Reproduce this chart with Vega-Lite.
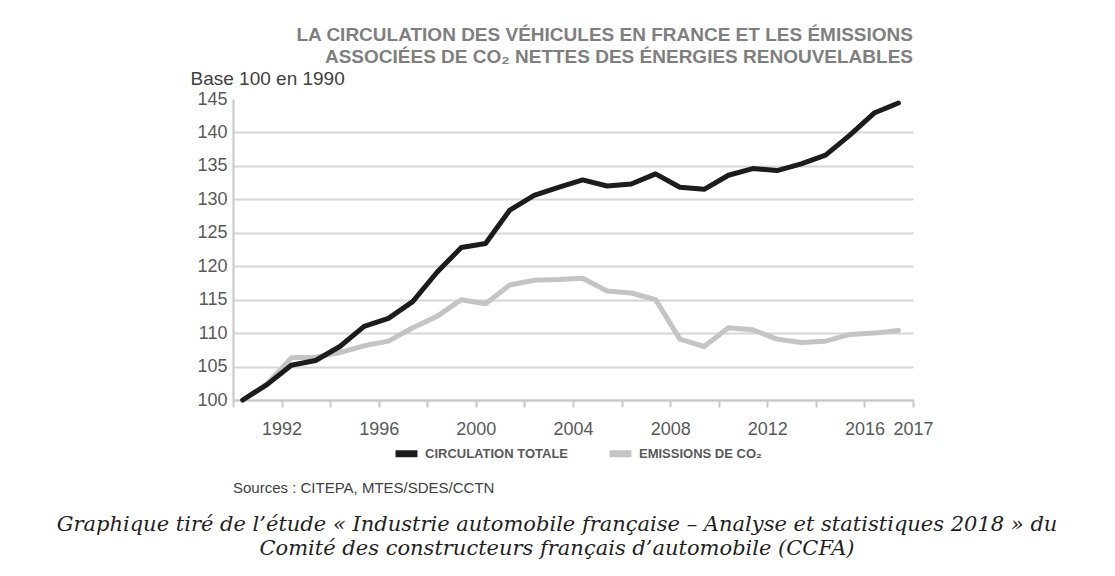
{
  "$schema": "https://vega.github.io/schema/vega-lite/v6.json",
  "autosize": {"type": "none"},
  "padding": {"left": 233, "top": 99, "right": 882, "bottom": 477},
  "background": "white",
  "bounds": "flush",
  "spacing": 0,
  "config": {
    "font": "Liberation Sans",
    "view": {"stroke": null}
  },
  "vconcat": [
    {
      "width": 680,
      "height": 301,
      "title": {
        "text": ["LA CIRCULATION DES VÉHICULES EN FRANCE ET LES ÉMISSIONS", "ASSOCIÉES DE CO₂ NETTES DES ÉNERGIES RENOUVELABLES"],
        "anchor": "end",
        "frame": "group",
        "font": "Liberation Sans",
        "fontSize": 19,
        "fontWeight": "bold",
        "color": "#7f7f7f",
        "lineHeight": 22,
        "offset": 2
      },
      "data": {
        "values": [
          {"year": 1990, "series": "EMISSIONS DE CO₂", "value": 100},
          {"year": 1991, "series": "EMISSIONS DE CO₂", "value": 102.4},
          {"year": 1992, "series": "EMISSIONS DE CO₂", "value": 106.3},
          {"year": 1993, "series": "EMISSIONS DE CO₂", "value": 106.4},
          {"year": 1994, "series": "EMISSIONS DE CO₂", "value": 107.1},
          {"year": 1995, "series": "EMISSIONS DE CO₂", "value": 108.1},
          {"year": 1996, "series": "EMISSIONS DE CO₂", "value": 108.8},
          {"year": 1997, "series": "EMISSIONS DE CO₂", "value": 110.8},
          {"year": 1998, "series": "EMISSIONS DE CO₂", "value": 112.5},
          {"year": 1999, "series": "EMISSIONS DE CO₂", "value": 115.0},
          {"year": 2000, "series": "EMISSIONS DE CO₂", "value": 114.4},
          {"year": 2001, "series": "EMISSIONS DE CO₂", "value": 117.2},
          {"year": 2002, "series": "EMISSIONS DE CO₂", "value": 117.9},
          {"year": 2003, "series": "EMISSIONS DE CO₂", "value": 118.0},
          {"year": 2004, "series": "EMISSIONS DE CO₂", "value": 118.2},
          {"year": 2005, "series": "EMISSIONS DE CO₂", "value": 116.3},
          {"year": 2006, "series": "EMISSIONS DE CO₂", "value": 116.0},
          {"year": 2007, "series": "EMISSIONS DE CO₂", "value": 115.0},
          {"year": 2008, "series": "EMISSIONS DE CO₂", "value": 109.1},
          {"year": 2009, "series": "EMISSIONS DE CO₂", "value": 108.0},
          {"year": 2010, "series": "EMISSIONS DE CO₂", "value": 110.8},
          {"year": 2011, "series": "EMISSIONS DE CO₂", "value": 110.5},
          {"year": 2012, "series": "EMISSIONS DE CO₂", "value": 109.1},
          {"year": 2013, "series": "EMISSIONS DE CO₂", "value": 108.6},
          {"year": 2014, "series": "EMISSIONS DE CO₂", "value": 108.8},
          {"year": 2015, "series": "EMISSIONS DE CO₂", "value": 109.8},
          {"year": 2016, "series": "EMISSIONS DE CO₂", "value": 110.0},
          {"year": 2017, "series": "EMISSIONS DE CO₂", "value": 110.4},
          {"year": 1990, "series": "CIRCULATION TOTALE", "value": 100},
          {"year": 1991, "series": "CIRCULATION TOTALE", "value": 102.3},
          {"year": 1992, "series": "CIRCULATION TOTALE", "value": 105.2},
          {"year": 1993, "series": "CIRCULATION TOTALE", "value": 105.9},
          {"year": 1994, "series": "CIRCULATION TOTALE", "value": 108.0},
          {"year": 1995, "series": "CIRCULATION TOTALE", "value": 111.0},
          {"year": 1996, "series": "CIRCULATION TOTALE", "value": 112.2},
          {"year": 1997, "series": "CIRCULATION TOTALE", "value": 114.7},
          {"year": 1998, "series": "CIRCULATION TOTALE", "value": 119.1},
          {"year": 1999, "series": "CIRCULATION TOTALE", "value": 122.8},
          {"year": 2000, "series": "CIRCULATION TOTALE", "value": 123.4},
          {"year": 2001, "series": "CIRCULATION TOTALE", "value": 128.4},
          {"year": 2002, "series": "CIRCULATION TOTALE", "value": 130.6},
          {"year": 2003, "series": "CIRCULATION TOTALE", "value": 131.8},
          {"year": 2004, "series": "CIRCULATION TOTALE", "value": 132.9},
          {"year": 2005, "series": "CIRCULATION TOTALE", "value": 132.0},
          {"year": 2006, "series": "CIRCULATION TOTALE", "value": 132.3},
          {"year": 2007, "series": "CIRCULATION TOTALE", "value": 133.8},
          {"year": 2008, "series": "CIRCULATION TOTALE", "value": 131.8},
          {"year": 2009, "series": "CIRCULATION TOTALE", "value": 131.5},
          {"year": 2010, "series": "CIRCULATION TOTALE", "value": 133.6},
          {"year": 2011, "series": "CIRCULATION TOTALE", "value": 134.6},
          {"year": 2012, "series": "CIRCULATION TOTALE", "value": 134.3},
          {"year": 2013, "series": "CIRCULATION TOTALE", "value": 135.3},
          {"year": 2014, "series": "CIRCULATION TOTALE", "value": 136.6},
          {"year": 2015, "series": "CIRCULATION TOTALE", "value": 139.6},
          {"year": 2016, "series": "CIRCULATION TOTALE", "value": 142.9},
          {"year": 2017, "series": "CIRCULATION TOTALE", "value": 144.4}
        ]
      },
      "mark": {"type": "line", "strokeWidth": 5, "strokeJoin": "round", "strokeCap": "round"},
      "encoding": {
        "x": {
          "field": "year",
          "type": "quantitative",
          "scale": {"domain": [1989.6, 2017.6], "nice": false, "zero": false},
          "axis": {
            "title": null,
            "values": [1989.6, 1991.6, 1993.6, 1995.6, 1997.6, 1999.6, 2001.6, 2003.6, 2005.6, 2007.6, 2009.6, 2011.6, 2013.6, 2015.6, 2017.6],
            "labelExpr": "datum.value > 2017 ? '2017' : (round(datum.value + 0.4) % 4 == 0 ? '' + round(datum.value + 0.4) : '')",
            "labelOverlap": false,
            "labelFont": "Liberation Sans",
            "labelFontSize": 18,
            "labelColor": "#595959",
            "labelPadding": 13,
            "labelFlush": false,
            "grid": false,
            "tickSize": 7,
            "tickWidth": 2,
            "tickColor": "#c8c8c8",
            "domainColor": "#c8c8c8",
            "domainWidth": 2
          }
        },
        "y": {
          "field": "value",
          "type": "quantitative",
          "scale": {"domain": [100, 145], "nice": false, "zero": false},
          "axis": {
            "title": "Base 100 en 1990",
            "titleAngle": 0,
            "titleAlign": "left",
            "titleBaseline": "alphabetic",
            "titleX": -43,
            "titleY": -15,
            "titleFont": "Liberation Sans",
            "titleFontSize": 19,
            "titleFontWeight": "normal",
            "titleColor": "#404040",
            "values": [100, 105, 110, 115, 120, 125, 130, 135, 140, 145],
            "labelFont": "Liberation Sans",
            "labelFontSize": 18,
            "labelColor": "#595959",
            "labelPadding": 6,
            "ticks": false,
            "grid": true,
            "gridColor": "#d6d6d6",
            "gridWidth": 2,
            "gridOpacity": {"condition": {"test": "datum.value === 145", "value": 0}, "value": 1},
            "domainColor": "#c8c8c8",
            "domainWidth": 2
          }
        },
        "color": {
          "field": "series",
          "type": "nominal",
          "scale": {"domain": ["CIRCULATION TOTALE", "EMISSIONS DE CO₂"], "range": ["#1c1c1c", "#c4c4c4"]},
          "legend": {
            "title": null,
            "orient": "none",
            "legendX": 159,
            "legendY": 340,
            "direction": "horizontal",
            "symbolType": "stroke",
            "symbolStrokeWidth": 7,
            "symbolSize": 480,
            "labelFont": "Liberation Sans",
            "labelFontSize": 13,
            "labelFontWeight": "bold",
            "labelColor": "#595959",
            "labelOffset": 4,
            "columnPadding": 27,
            "padding": 0
          }
        },
        "order": {"field": "series", "sort": "descending"}
      }
    },
    {
      "width": 680,
      "height": 81,
      "title": {
        "text": "Sources : CITEPA, MTES/SDES/CCTN",
        "orient": "bottom",
        "anchor": "start",
        "frame": "group",
        "baseline": "top",
        "offset": 0,
        "font": "Liberation Sans",
        "fontSize": 15,
        "fontWeight": "normal",
        "color": "#404040"
      },
      "data": {"values": []},
      "mark": "point",
      "encoding": {}
    },
    {
      "width": 648,
      "height": 33,
      "title": {
        "text": ["Graphique tiré de l’étude « Industrie automobile française – Analyse et statistiques 2018 » du", "Comité des constructeurs français d’automobile (CCFA)"],
        "orient": "bottom",
        "anchor": "middle",
        "frame": "group",
        "baseline": "top",
        "offset": 0,
        "font": "DejaVu Serif",
        "fontSize": 21,
        "fontStyle": "italic",
        "fontWeight": "normal",
        "color": "#1f1f1f",
        "lineHeight": 24
      },
      "data": {"values": []},
      "mark": "point",
      "encoding": {}
    }
  ]
}
